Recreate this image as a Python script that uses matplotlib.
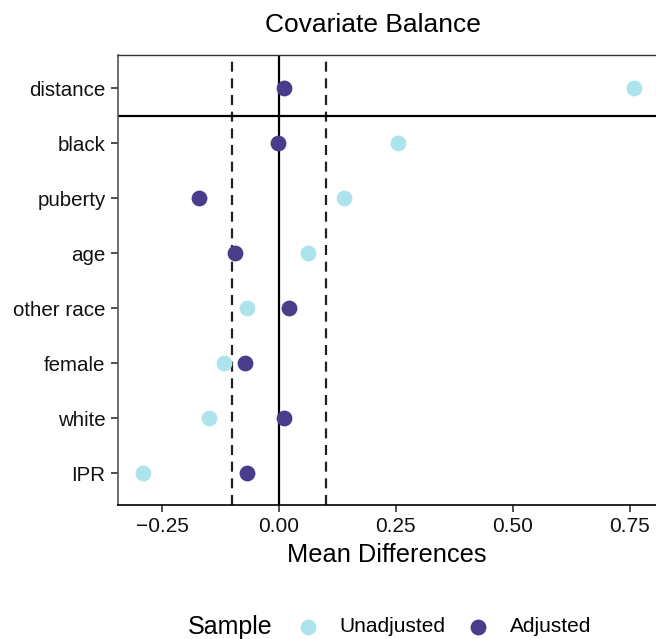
import matplotlib
matplotlib.use("Agg")
from matplotlib import pyplot as plt

plt.rcParams['font.family'] = ['Liberation Sans', 'DejaVu Sans']

# covariates, bottom to top
covariates = ['IPR', 'white', 'female', 'other race', 'age', 'puberty', 'black', 'distance']
unadjusted = [-0.291, -0.150, -0.118, -0.068, 0.062, 0.139, 0.254, 0.759]
adjusted = [-0.068, 0.011, -0.073, 0.021, -0.094, -0.171, -0.001, 0.011]
xticks = [-0.25, 0.0, 0.25, 0.5, 0.75]
xticklabels = ['\u22120.25', '0.00', '0.25', '0.50', '0.75']

col_un = '#ADE4EC'
col_adj = '#483D8B'

fig = plt.figure(figsize=(6.56, 6.39), dpi=100)
ax = fig.add_axes([118 / 656, 1 - 505 / 639, 1 - 118 / 656, 450 / 639])

ypos = list(range(1, len(covariates) + 1))

# reference lines
ax.axvline(0, color='black', lw=1.6, zorder=1)
ax.axvline(-0.1, color='#222222', lw=1.6, ls=(0, (4.5, 3)), zorder=1)
ax.axvline(0.1, color='#222222', lw=1.6, ls=(0, (4.5, 3)), zorder=1)
ax.axhline(7.5, color='black', lw=1.6, zorder=1)

un = ax.scatter(unadjusted, ypos, s=130, color=col_un, zorder=3, linewidths=0)
adj = ax.scatter(adjusted, ypos, s=130, color=col_adj, zorder=4, linewidths=0)

ax.set_xlim(-0.344, 0.806)
ax.set_ylim(0.42, 8.6)
ax.set_yticks(ypos)
ax.set_yticklabels(covariates, fontsize=14.8, color='#111111')
ax.set_xticks(xticks)
ax.set_xticklabels(xticklabels, fontsize=15, color='#111111')
ax.tick_params(axis='both', length=5, width=1.2, color='#333333', pad=4)

ax.spines['right'].set_visible(False)
ax.spines['left'].set_color('#555555')
ax.spines['left'].set_linewidth(1.2)
ax.spines['bottom'].set_color('black')
ax.spines['bottom'].set_linewidth(1.2)
ax.spines['top'].set_color('#333333')
ax.spines['top'].set_linewidth(1.0)

ax.set_xlabel('Mean Differences', fontsize=18.3, labelpad=5)

fig.text(373 / 656, 1 - 25 / 639, 'Covariate Balance', fontsize=19,
         ha='center', va='center')

# legend
fig.text(188 / 656, 1 - 627 / 639, 'Sample', fontsize=18, ha='left', va='center')
fig.legend([un, adj], ['Unadjusted', 'Adjusted'], ncol=2, frameon=False,
           fontsize=15, loc='center left', bbox_to_anchor=(289 / 656, 1 - 627 / 639),
           handlelength=1.0, handletextpad=1.04, columnspacing=1.04,
           scatterpoints=1, markerscale=1.0, borderaxespad=0)

plt.savefig('out.png', dpi=100)
